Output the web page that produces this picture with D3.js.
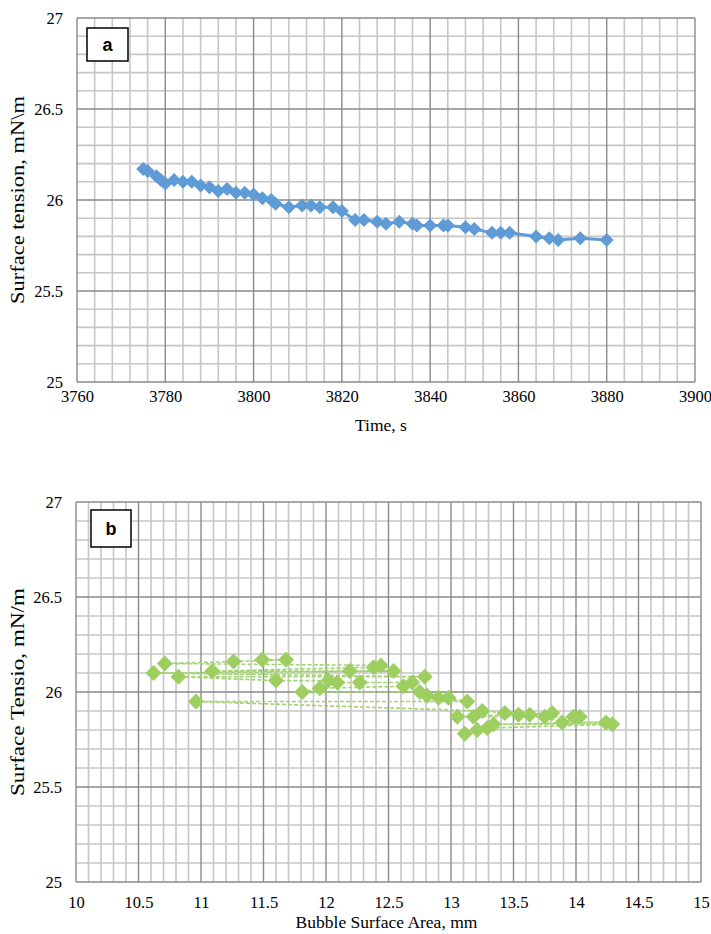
<!DOCTYPE html>
<html>
<head>
<meta charset="utf-8">
<script src="https://cdn.jsdelivr.net/npm/d3@7"></script>
<style>
  html, body { margin: 0; padding: 0; background: #ffffff; }
  svg { display: block; }
  .tick text { font-family: 'Liberation Serif', 'Times New Roman', serif; font-size: 16.5px; fill: #000; }
</style>
</head>
<body>
<svg id="chart" width="711" height="934"></svg>
<script>
// ---- Panel a: surface tension over time ----
const timeS = [3775, 3776, 3778, 3779, 3780, 3782, 3784, 3786, 3788, 3790, 3792, 3794, 3796, 3798, 3800,
  3802, 3804, 3805, 3808, 3811, 3813, 3815, 3818, 3820, 3823, 3825, 3828, 3830, 3833, 3836, 3837,
  3840, 3843, 3844, 3848, 3850, 3854, 3856, 3858, 3864, 3867, 3869, 3874, 3880];
const tensionA = [26.17, 26.16, 26.13, 26.11, 26.09, 26.11, 26.10, 26.10, 26.08, 26.07, 26.05, 26.06, 26.04, 26.04, 26.03,
  26.01, 26.00, 25.98, 25.96, 25.97, 25.97, 25.96, 25.96, 25.94, 25.89, 25.89, 25.88, 25.87, 25.88, 25.87, 25.86,
  25.86, 25.86, 25.86, 25.85, 25.84, 25.82, 25.82, 25.82, 25.80, 25.79, 25.78, 25.79, 25.78];

// ---- Panel b: surface tension against bubble surface area (measurement order) ----
const areaMm = [11.49, 11.68, 11.26, 10.71, 12.44, 12.38, 11.09, 12.19, 12.54, 10.62, 12.79, 10.82, 11.60, 12.02,
  12.09, 12.27, 12.69, 12.62, 11.95, 11.81, 12.75, 12.81, 12.98, 12.90, 13.13, 10.96, 13.25, 13.43, 13.54,
  13.63, 13.81, 13.05, 13.18, 13.75, 13.98, 14.03, 13.89, 14.24, 13.34, 14.29, 13.29, 13.21, 13.11];
const tensionB = [26.17, 26.17, 26.16, 26.15, 26.14, 26.13, 26.11, 26.11, 26.11, 26.10, 26.08, 26.08, 26.06, 26.06,
  26.05, 26.05, 26.05, 26.03, 26.02, 26.00, 26.00, 25.98, 25.97, 25.97, 25.95, 25.95, 25.90, 25.89, 25.88,
  25.88, 25.89, 25.87, 25.87, 25.87, 25.87, 25.87, 25.84, 25.84, 25.83, 25.83, 25.81, 25.80, 25.78];

// ---- Axis ticks ----
const timeTicks = [3760, 3780, 3800, 3820, 3840, 3860, 3880, 3900];
const areaTicks = [10, 10.5, 11, 11.5, 12, 12.5, 13, 13.5, 14, 14.5, 15];
const tensionTicks = [25, 25.5, 26, 26.5, 27];

const serif = "'Liberation Serif', 'Times New Roman', serif";
const svg = d3.select("#chart");

const diamond = r => `M0,${-r}L${r},0L0,${r}L${-r},0Z`;

function drawGrid(g, x, y, xMinorStep, yMinorStep, xMajor, yMajor, w, h) {
  const [x0, x1] = x.domain();
  const [y0, y1] = y.domain();
  const xMinor = d3.range(0, Math.round((x1 - x0) / xMinorStep) + 1).map(i => x0 + i * xMinorStep);
  const yMinor = d3.range(0, Math.round((y1 - y0) / yMinorStep) + 1).map(i => y0 + i * yMinorStep);
  const isMajor = (v, list) => list.some(t => Math.abs(t - v) < 1e-6);

  g.append("g").selectAll("line").data(xMinor.filter(v => !isMajor(v, xMajor))).join("line")
    .attr("x1", d => x(d)).attr("x2", d => x(d)).attr("y1", 0).attr("y2", h)
    .attr("stroke", "#c6c6c6").attr("stroke-width", 1.6);
  g.append("g").selectAll("line").data(yMinor.filter(v => !isMajor(v, yMajor))).join("line")
    .attr("y1", d => y(d)).attr("y2", d => y(d)).attr("x1", 0).attr("x2", w)
    .attr("stroke", "#c6c6c6").attr("stroke-width", 1.6);
  g.append("g").selectAll("line").data(xMajor).join("line")
    .attr("x1", d => x(d)).attr("x2", d => x(d)).attr("y1", 0).attr("y2", h)
    .attr("stroke", "#8a8a8a").attr("stroke-width", 1.4);
  g.append("g").selectAll("line").data(yMajor).join("line")
    .attr("y1", d => y(d)).attr("y2", d => y(d)).attr("x1", 0).attr("x2", w)
    .attr("stroke", "#8a8a8a").attr("stroke-width", 1.4);
}

function drawAxes(g, x, y, xTicks, w, h, xFmt, xLabelDy) {
  const ax = g.append("g").attr("transform", `translate(0,${h})`)
    .call(d3.axisBottom(x).tickValues(xTicks).tickSize(0).tickPadding(xLabelDy).tickFormat(xFmt));
  ax.select(".domain").remove();
  ax.attr("font-family", null).attr("font-size", null);

  const ay = g.append("g")
    .call(d3.axisLeft(y).tickValues(tensionTicks).tickSize(0).tickPadding(14).tickFormat(d3.format("~g")));
  ay.select(".domain").remove();
  ay.attr("font-family", null).attr("font-size", null);
}

function drawTag(g, x, y, w, h, label) {
  g.append("rect").attr("x", x).attr("y", y).attr("width", w).attr("height", h)
    .attr("fill", "#fff").attr("stroke", "#000").attr("stroke-width", 1.5);
  g.append("text").attr("x", x + w / 2).attr("y", y + h / 2 + 6)
    .attr("text-anchor", "middle").attr("font-family", "'Liberation Sans', Arial, sans-serif")
    .attr("font-weight", "bold").attr("font-size", 18).text(label);
}

// ===== Panel a =====
{
  const left = 77, top = 18, w = 618, h = 364;
  const x = d3.scaleLinear().domain([3760, 3900]).range([0, w]);
  const y = d3.scaleLinear().domain([25, 27]).range([h, 0]);
  const g = svg.append("g").attr("transform", `translate(${left},${top})`);

  drawGrid(g, x, y, 4, 0.1, timeTicks, tensionTicks, w, h);
  drawAxes(g, x, y, timeTicks, w, h, d3.format("d"), 8);
  drawTag(g, 10, 10, 41, 33, "a");

  const pts = timeS.map((t, i) => [t, tensionA[i]]);
  g.append("path").datum(pts)
    .attr("d", d3.line().x(d => x(d[0])).y(d => y(d[1])))
    .attr("fill", "none").attr("stroke", "#5f9bd6").attr("stroke-width", 3).attr("stroke-linejoin", "round");
  g.append("g").selectAll("path").data(pts).join("path")
    .attr("transform", d => `translate(${x(d[0])},${y(d[1])})`)
    .attr("d", diamond(7)).attr("fill", "#5f9bd6");

  svg.append("text").attr("x", left + w / 2 - 5).attr("y", 431)
    .attr("text-anchor", "middle").attr("font-family", serif).attr("font-size", 17.5).text("Time, s");
  svg.append("text").attr("transform", `translate(24,${top + h / 2}) rotate(-90)`)
    .attr("text-anchor", "middle").attr("font-family", serif).attr("font-size", 19)
    .attr("textLength", 208).attr("lengthAdjust", "spacingAndGlyphs")
    .text("Surface tension, mN\\m");
}

// ===== Panel b =====
{
  const left = 76, top = 502, w = 625, h = 380;
  const x = d3.scaleLinear().domain([10, 15]).range([0, w]);
  const y = d3.scaleLinear().domain([25, 27]).range([h, 0]);
  const g = svg.append("g").attr("transform", `translate(${left},${top})`);

  drawGrid(g, x, y, 0.1, 0.1, areaTicks, tensionTicks, w, h);
  drawAxes(g, x, y, areaTicks, w, h, d3.format("~g"), 14);
  drawTag(g, 15, 8, 40, 37, "b");

  const pts = areaMm.map((a, i) => [a, tensionB[i]]);
  g.append("path").datum(pts)
    .attr("d", d3.line().x(d => x(d[0])).y(d => y(d[1])))
    .attr("fill", "none").attr("stroke", "#a3d472").attr("stroke-width", 1.6)
    .attr("stroke-dasharray", "4,2");
  g.append("g").selectAll("path").data(pts).join("path")
    .attr("transform", d => `translate(${x(d[0])},${y(d[1])})`)
    .attr("d", diamond(8)).attr("fill", "#9dcf60");

  svg.append("text").attr("x", left + w / 2 - 2).attr("y", 928)
    .attr("text-anchor", "middle").attr("font-family", serif).attr("font-size", 17.5)
    .text("Bubble Surface Area, mm");
  svg.append("text").attr("transform", `translate(24,${top + h / 2}) rotate(-90)`)
    .attr("text-anchor", "middle").attr("font-family", serif).attr("font-size", 19)
    .attr("textLength", 208).attr("lengthAdjust", "spacingAndGlyphs")
    .text("Surface Tensio, mN/m");
}
</script>
</body>
</html>
